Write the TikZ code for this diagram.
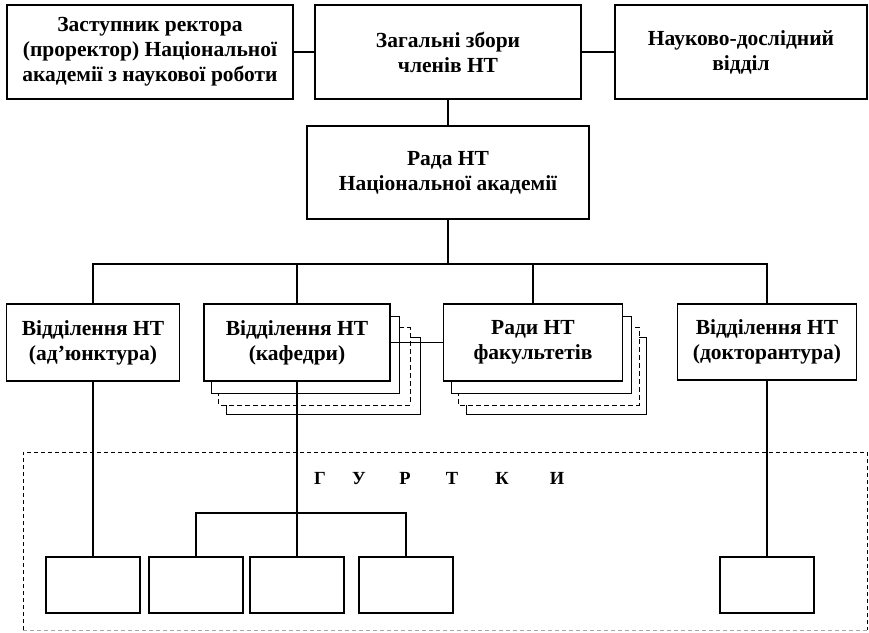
\documentclass[tikz,border=0pt]{standalone}
\usepackage{fontspec}
\setmainfont{Liberation Serif}
\usetikzlibrary{positioning, calc, backgrounds}

\begin{document}
\begin{tikzpicture}[-,x=1pt,y=-1pt,line width=1.5pt,font=\bfseries\fontsize{21.5}{25}\selectfont]
        \tikzstyle{point}=[coordinate]
        \tikzstyle{block}=[draw, rectangle, fill=white, align=center, inner sep=0pt]
        \tikzstyle{gurtok}=[draw, rectangle, minimum width=94pt, minimum height=56pt]
        \useasboundingbox (0,0) rectangle (869,632);
        % area of the gurtky
        \draw[dashed, line width=0.7pt, dash pattern=on 4pt off 3pt] (23,630) -- (23,452) -- (867,452) -- (867,630);
        \draw[dashed, line width=0.7pt, dash pattern=on 4pt off 3pt, black!35] (23,630) -- (867,630);
        % top row
        \node[block, minimum width=286pt, minimum height=94pt] (1) at (150,52)   {Заступник ректора\\(проректор) Національної\\академії з наукової роботи};
        \node[block, minimum width=266pt, minimum height=94pt] (2) at (448,52)   {Загальні збори\\членів НТ};
        \node[block, minimum width=252pt, minimum height=94pt] (3) at (741,52)   {Науково-дослідний\\відділ};
        \node[block, minimum width=282pt, minimum height=93pt] (4) at (448,172.5) {Рада НТ\\Національної академії};
        % second row
        \node[block, minimum width=173pt, minimum height=77pt] (5) at (93,342.5)  {Відділення НТ\\(ад’юнктура)};
        \node[block, minimum width=186pt, minimum height=77pt] (6) at (297,342.5) {Відділення НТ\\(кафедри)};
        \node[block, minimum width=179pt, minimum height=77pt] (7) at (533,342.5) {Ради НТ\\факультетів};
        \node[block, minimum width=179pt, minimum height=76pt] (8) at (767,342)   {Відділення НТ\\(докторантура)};
        \begin{scope}[on background layer]
            \foreach \b/\p/\q in {6/19/29, 7/16/23} {
                \draw[fill=white] ($(\b.north west)+(23,34)$) rectangle ($(\b.south east)+(\q,32)$);
                \draw[fill=white, dashed, dash pattern=on 5pt off 3pt] ($(\b.north west)+(15,24)$) rectangle ($(\b.south east)+(\p,23)$);
                \draw[fill=white] ($(\b.north west)+(8,13)$) rectangle ($(\b.south east)+(8,11.5)$);
            }
        \end{scope}
        % gurtky
        \node[gurtok] (9)  at (93,585)  {};
        \node[gurtok] (10) at (196,585) {};
        \node[gurtok] (11) at (297,585) {};
        \node[gurtok] (12) at (406,585) {};
        \node[gurtok] (13) at (767,585) {};
        \foreach \l/\x in {Г/320,У/359,Р/405,Т/452,К/502,И/557}
            \node[anchor=base, font=\bfseries\fontsize{18.5}{20}\selectfont] (g\l) at (\x,484) {\l};
        % connections
        \node[point] (14) at (448,264) {};
        \node[point] (15) at (297,513) {};
        \draw (1) -- (2);
        \draw (2) -- (3);
        \draw (2) -- (4);
        \draw (4) -- (14);
        \draw (5.north) |- (14)   (8.north) |- (14)   (6.north) |- (14)   (7.north) |- (14);
        \draw (6) -- (7);
        \draw (5) -- (9);
        \draw (6) -- (11);
        \draw (8) -- (13);
        \draw (10.north) |- (15)   (12.north) |- (15);
\end{tikzpicture}
\end{document}
